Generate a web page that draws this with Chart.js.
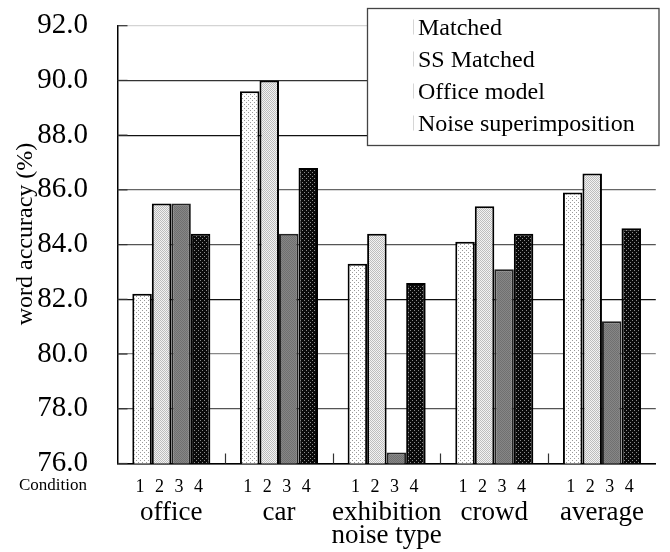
<!DOCTYPE html>
<html>
<head>
<meta charset="utf-8">
<script src="https://cdn.jsdelivr.net/npm/chart.js@4.4.1/dist/chart.umd.min.js"></script>
<style>
    html, body { margin: 0; padding: 0; background: #fff; overflow: hidden; }
    #wrap { width: 670px; height: 552px; overflow: hidden; position: relative; }
    #box { width: 677px; height: 552px; position: absolute; left: 0; top: 0; }
</style>
</head>
<body>
<div id="wrap"><div id="box"><canvas id="myChart"></canvas></div></div>
<script>
// data
const noiseTypes = ['office', 'car', 'exhibition', 'crowd', 'average'];
const conditions = ['1', '2', '3', '4'];
const seriesNames = ['Matched', 'SS Matched', 'Office model', 'Noise superimposition'];
const matched = [82.2, 89.6, 83.3, 84.1, 85.9];
const ssMatched = [85.5, 90.0, 84.4, 85.4, 86.6];
const officeModel = [85.5, 84.4, 76.4, 83.1, 81.2];
const noiseSuperimposition = [84.4, 86.8, 82.6, 84.4, 84.6];

const serif = "'Liberation Serif', 'Times New Roman', serif";

// scanned gridlines are not all the same darkness
const gridColors = { 92: '#d4d4d4', 90: '#333', 88: '#111', 86: '#666', 84: '#555', 82: '#111', 80: '#888', 78: '#555', 76: '#000' };

function makePattern(bg, dot, size, cells) {
    var c = document.createElement('canvas');
    c.width = size;
    c.height = size;
    var g = c.getContext('2d');
    g.fillStyle = bg;
    g.fillRect(0, 0, size, size);
    g.fillStyle = dot;
    cells.forEach(function (p) { g.fillRect(p[0], p[1], 1, 1); });
    return g.createPattern(c, 'repeat');
}

const fills = [
    makePattern('#ffffff', '#9a9a9a', 4, [[0, 0], [2, 2]]),
    makePattern('#f2f2f2', '#bdbdbd', 2, [[0, 0], [1, 1]]),
    makePattern('#868686', '#707070', 2, [[0, 0], [1, 1]]),
    makePattern('#0a0a0a', '#8a8a8a', 4, [[0, 0], [2, 2]])
];

const paperPlugin = {
    id: 'paper',
    afterDraw: function (chart) {
        var ctx = chart.ctx;
        var x = chart.scales.x;
        var y = chart.scales.y;
        var area = chart.chartArea;
        ctx.save();

        // inward tick marks
        ctx.strokeStyle = '#333';
        ctx.lineWidth = 1.2;
        for (var i = 0; i < noiseTypes.length - 1; i++) {
            var bx = Math.round((x.getPixelForValue(i) + x.getPixelForValue(i + 1)) / 2) + 0.5;
            ctx.beginPath();
            ctx.moveTo(bx, area.bottom);
            ctx.lineTo(bx, area.bottom - 10);
            ctx.stroke();
        }
        y.ticks.forEach(function (t) {
            var py = y.getPixelForValue(t.value);
            ctx.beginPath();
            ctx.moveTo(area.left, py);
            ctx.lineTo(area.left + 10, py);
            ctx.stroke();
        });

        // condition numbers under each bar
        ctx.fillStyle = '#000';
        ctx.textAlign = 'center';
        ctx.textBaseline = 'alphabetic';
        ctx.font = '18px ' + serif;
        chart.data.datasets.forEach(function (ds, i) {
            chart.getDatasetMeta(i).data.forEach(function (bar) {
                ctx.fillText(conditions[i], bar.x - 2, area.bottom + 28.5);
            });
        });
        ctx.font = '17px ' + serif;
        ctx.fillText('Condition', 53, area.bottom + 26.5);

        // y title
        ctx.save();
        ctx.translate(26, 234);
        ctx.rotate(-Math.PI / 2);
        ctx.font = '24px ' + serif;
        ctx.textBaseline = 'middle';
        ctx.fillText('word accuracy (%)', 0, 0);
        ctx.restore();

        // legend box
        ctx.fillStyle = '#fff';
        ctx.fillRect(367.5, 8.5, 291.5, 137);
        ctx.strokeStyle = '#444';
        ctx.lineWidth = 1.3;
        ctx.strokeRect(367.5, 8.5, 291.5, 137);
        ctx.font = '24px ' + serif;
        ctx.textAlign = 'left';
        ctx.textBaseline = 'alphabetic';
        seriesNames.forEach(function (name, i) {
            var base = 34.5 + i * 32;
            ctx.fillStyle = '#d6d6d6';
            ctx.fillRect(413, base - 15, 1, 15);
            ctx.fillStyle = '#000';
            ctx.fillText(name, 418, base);
        });

        ctx.restore();
    }
};

function renderChart() {
    const seriesValues = [matched, ssMatched, officeModel, noiseSuperimposition];
    const data = {
        labels: noiseTypes,
        datasets: seriesNames.map(function (name, i) {
            return {
                label: name,
                data: seriesValues[i],
                backgroundColor: fills[i],
                borderColor: i == 2 ? '#222' : '#000',
                borderWidth: 2,
                categoryPercentage: 0.725,
                barPercentage: 1.0
            };
        })
    };
    const config = {
        type: 'bar',
        data: data,
        options: {
            responsive: true,
            maintainAspectRatio: false,
            animation: false,
            devicePixelRatio: 1,
            layout: {
                padding: { top: 25.7, right: 0.75, bottom: 0, left: 0 }
            },
            scales: {
                x: {
                    grid: { display: true, drawOnChartArea: false, drawTicks: false },
                    border: { display: true, color: '#000', width: 1.5 },
                    ticks: {
                        color: '#000',
                        font: { family: serif, size: 27 },
                        padding: 33,
                        maxRotation: 0,
                        autoSkip: false
                    },
                    title: {
                        display: true,
                        text: 'noise type',
                        color: '#000',
                        font: { family: serif, size: 27 },
                        padding: { top: 0, bottom: 0 }
                    },
                    afterFit: function (scale) { scale.height = 88.5; }
                },
                y: {
                    min: 76,
                    max: 92,
                    grid: {
                        drawTicks: true,
                        tickLength: 29,
                        tickColor: 'rgba(0,0,0,0)',
                        lineWidth: 1.2,
                        color: function (c) { return gridColors[c.tick.value] || '#555'; }
                    },
                    border: { display: true, color: '#000', width: 1.5 },
                    ticks: {
                        stepSize: 2,
                        color: '#000',
                        padding: 0.5,
                        font: { family: serif, size: 29 },
                        callback: function (v) { return v.toFixed(1); }
                    },
                    afterFit: function (scale) { scale.width = 117.5; }
                }
            },
            plugins: {
                legend: { display: false },
                tooltip: { enabled: false }
            }
        },
        plugins: [paperPlugin]
    };
    var myChart = new Chart(document.getElementById('myChart'), config);
}

renderChart();
</script>
</body>
</html>
